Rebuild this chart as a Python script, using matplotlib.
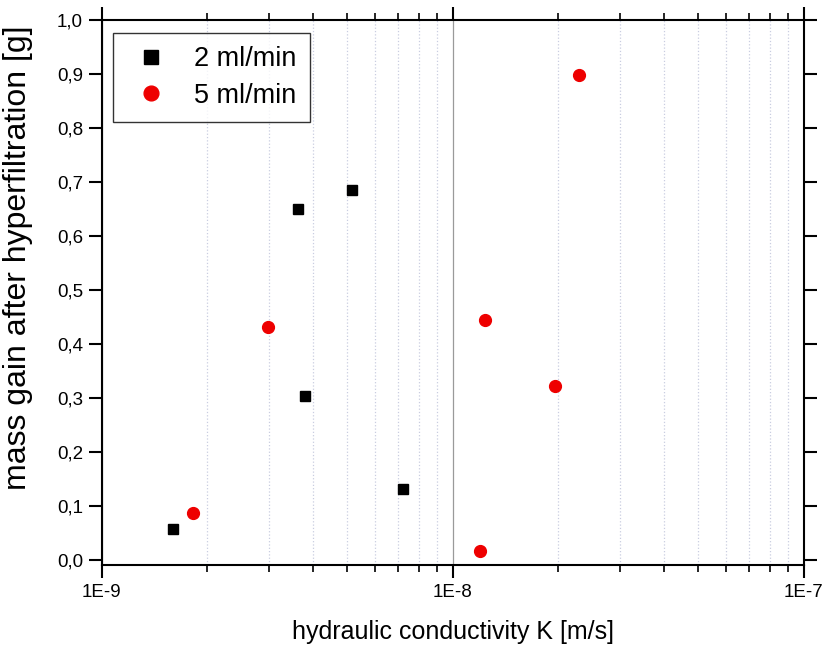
from matplotlib import pyplot as plt
from matplotlib.ticker import FuncFormatter, LogLocator, NullFormatter, MultipleLocator, FixedLocator
import math

plt.rcParams['font.family'] = ['Liberation Sans', 'DejaVu Sans']

# data
k_2ml = [1.6e-9, 3.62e-9, 3.8e-9, 5.17e-9, 7.22e-9]
m_2ml = [0.057, 0.649, 0.303, 0.684, 0.131]

k_5ml = [1.82e-9, 2.98e-9, 1.196e-8, 1.236e-8, 1.955e-8, 2.29e-8]
m_5ml = [0.087, 0.431, 0.017, 0.444, 0.322, 0.898]

x_ticks = [1e-9, 1e-8, 1e-7]

fig = plt.figure(figsize=(8.27, 6.57), dpi=100)
ax = fig.add_axes([0.123, 0.140, 0.849, 0.830])

ax.set_xscale('log')
ax.set_xlim(1e-9, 1e-7)
ax.set_ylim(-0.0093, 1.0)

# grid: dotted at minor decades, solid grey at 1E-8
ax.xaxis.set_major_locator(FixedLocator(x_ticks))
ax.xaxis.set_minor_locator(LogLocator(base=10, subs=range(2, 10)))
ax.grid(which='minor', axis='x', color='#c9cde0', linestyle=':', linewidth=0.9)
ax.grid(which='major', axis='x', color='#9a9a9a', linestyle='-', linewidth=0.9)
ax.set_axisbelow(True)

ax.plot(k_2ml, m_2ml, linestyle='none', marker='s', markersize=7.5,
        color='black', label='2 ml/min', zorder=3)
ax.plot(k_5ml, m_5ml, linestyle='none', marker='o', markersize=8.5,
        color='#ee0000', markeredgecolor='#ee0000', label='5 ml/min', zorder=3)

ax.yaxis.set_major_locator(MultipleLocator(0.1))
ax.yaxis.set_major_formatter(FuncFormatter(lambda v, p: ('%.1f' % v).replace('.', ',')))
ax.xaxis.set_major_formatter(FuncFormatter(lambda v, p: '1E%d' % round(math.log10(v))))
ax.xaxis.set_minor_formatter(NullFormatter())

for s in ax.spines.values():
    s.set_linewidth(1.5)
ax.tick_params(which='major', direction='out', length=9.5, width=1.5,
               top=True, right=True, labelsize=13.5, pad=4)
ax.tick_params(which='minor', direction='out', length=5, width=1.2, top=True)

ax.set_xlabel('hydraulic conductivity K [m/s]', fontsize=18, labelpad=14)
ax.set_ylabel('mass gain after hyperfiltration [g]', fontsize=23)
ax.yaxis.set_label_coords(-0.098, 0.563)

leg = ax.legend(loc='upper left', bbox_to_anchor=(0.016, 0.976), borderaxespad=0,
                fontsize=19.5, frameon=True, fancybox=False, markerscale=1.25,
                handletextpad=0.7, borderpad=0.5, labelspacing=0.38, handlelength=1.8)
leg.get_frame().set_edgecolor('black')
leg.get_frame().set_linewidth(1.0)

fig.savefig('out.png', dpi=100)
